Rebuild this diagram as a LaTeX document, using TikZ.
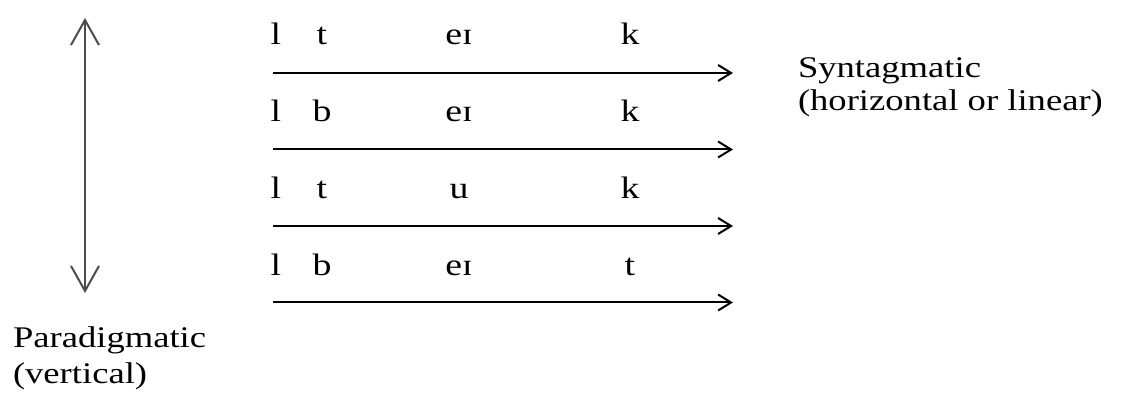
\documentclass[tikz,border=0pt]{standalone}
\usepackage{fontspec}
\setmainfont[FakeStretch=1.22]{Liberation Serif}
\usetikzlibrary{arrows.meta,positioning}

\begin{document}
\begin{tikzpicture}[x=0.5pt,y=-0.5pt,line width=1pt,
  seg/.style={inner sep=0pt,anchor=base,font=\fontsize{15.5}{17}\selectfont},
  lbl/.style={inner sep=0pt,anchor=base west,font=\fontsize{15}{17}\selectfont},
  row/.style={-{Straight Barb[length=6.5pt,width=8pt]}},
  axis/.style={black!70,{Straight Barb[length=12.5pt,width=14pt]}-{Straight Barb[length=12.5pt,width=14pt]}}]
\useasboundingbox (0,0) rectangle (1121,399);
% paradigmatic axis
\coordinate (ptop) at (85,18);
\coordinate (pbot) at (85,293);
\draw[axis] (ptop) -- (pbot);
\node[lbl] (para) at (12,348) {Paradigmatic};
\node[lbl] (parasub) at (12,384) {(vertical)};
% rows of segments, each with its syntagmatic line
\foreach \i/\a/\b/\c in {1/t/eɪ/k,2/b/eɪ/k,3/t/u/k,4/b/eɪ/t}{
  \node[seg] (l\i) at (276,{45+(\i-1)*76.7}) {l};
  \node[seg] (a\i) at (322,{45+(\i-1)*76.7}) {\a};
  \node[seg] (b\i) at (459,{45+(\i-1)*76.7}) {\b};
  \node[seg] (c\i) at (630,{45+(\i-1)*76.7}) {\c};
  \coordinate (s\i) at (273,{73+(\i-1)*76.5});
  \coordinate (e\i) at (733,{73+(\i-1)*76.5});
  \draw[row] (s\i) -- (e\i);
}
\node[lbl] (synt) at (797,78) {Syntagmatic};
\node[lbl] (syntsub) at (797,111) {(horizontal or linear)};
\end{tikzpicture}
\end{document}
